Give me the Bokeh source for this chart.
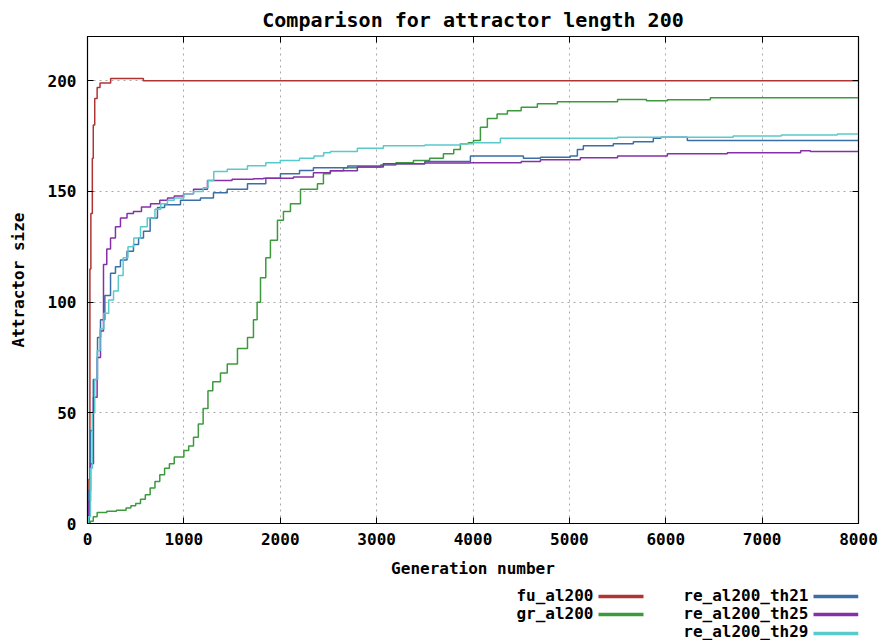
from bokeh.plotting import figure
from bokeh.models import Range1d, FixedTicker, LinearAxis, ColumnDataSource
from bokeh.layouts import column
from bokeh.embed import file_html
from bokeh.resources import INLINE
from bokeh.core.properties import value

# ---------------- data ----------------
fu_x = [0, 15, 25, 35, 50, 60, 75, 100, 130, 240, 580, 8000]
fu_y = [3, 20, 115, 140, 165, 180, 192, 197, 199, 201, 200, 200]

gr_x = [0, 30, 60, 100, 200, 300, 400, 450, 500, 550, 600, 650, 700, 750, 800, 850, 900, 1000,
        1050, 1100, 1150, 1200, 1250, 1300, 1380, 1450, 1556, 1660, 1722, 1760, 1795, 1850, 1898,
        1971, 2033, 2106, 2210, 2386, 2448, 2520, 2656, 2800, 3040, 3200, 3382, 3550, 3693, 3800,
        3869, 3950, 4004, 4077, 4149, 4250, 4357, 4500, 4668, 4876, 5500, 5800, 6017, 6463, 8000]
gr_y = [0, 1, 3, 5, 5.5, 6, 7, 8, 9, 11, 13, 16, 19, 22, 25, 27, 30, 33,
        35, 39, 45, 52, 60, 64, 68, 72, 79, 84, 92, 100, 111, 120, 128,
        137, 141, 144.5, 151, 153.5, 158, 159.4, 160.7, 161, 162, 163, 164, 165, 167, 169,
        171.5, 172, 173, 179, 183, 185, 186.5, 188, 189.6, 190.5, 191.5, 191, 191.4, 192.3, 192.5]

th21_x = [0, 15, 31, 60, 104, 135, 180, 239, 290, 342, 410, 477, 530, 581, 650, 726, 800, 965,
          1100, 1172, 1307, 1450, 1660, 1850, 2002, 2200, 2344, 2448, 2700, 3070, 3500, 3973,
          4523, 4700, 5010, 5083, 5145, 5456, 5664, 5871, 5950, 6224, 8000]
th21_y = [0, 15, 42, 65, 84, 92, 103, 113, 116, 119, 123, 126, 129, 132, 138, 142.7, 144, 146,
          146, 147, 149.4, 151, 153.5, 156, 158, 159.5, 160.7, 160.7, 161.5, 162.5, 163.5, 166,
          165, 165.5, 166, 169, 170.6, 171.5, 172.5, 174, 174.5, 173, 173]

th25_x = [0, 15, 31, 62, 100, 135, 166, 200, 239, 290, 342, 410, 477, 560, 654, 750, 830, 900,
          996, 1100, 1245, 1500, 1722, 1826, 2137, 2344, 2520, 2800, 3070, 3500, 3973, 4357,
          4500, 4700, 5114, 5500, 6017, 6639, 7400, 7500, 8000]
th25_y = [0, 10, 27, 57, 75, 87, 117, 124, 129, 134, 138, 140, 141, 143, 144.5, 146, 147, 148,
          149, 151, 155, 155.5, 155.7, 156, 156.5, 158.5, 159.4, 161, 162.5, 162.8, 163, 163,
          163.5, 164.3, 165.2, 166, 167, 167.5, 168.4, 168, 168]

th29_x = [0, 10, 30, 50, 75, 100, 130, 170, 220, 270, 320, 370, 420, 480, 550, 620, 700, 760,
          830, 900, 1000, 1100, 1200, 1250, 1310, 1450, 1660, 1850, 2000, 2200, 2350, 2450, 2520,
          2800, 3070, 3500, 3870, 4000, 4284, 5000, 5500, 6000, 6700, 7200, 7780, 8000]
th29_y = [0, 3, 25, 50, 65, 78, 88, 95, 101, 105, 112, 120, 125, 129, 134, 138, 142, 144.5,
          146, 147, 149, 150, 151.7, 155, 159, 160, 161.6, 163, 164, 165, 166, 167.5, 168,
          169.5, 170.6, 171, 171.5, 172, 174, 174, 174.5, 174.5, 175, 175.5, 176, 176]

series_names = ["fu_al200", "gr_al200", "re_al200_th21", "re_al200_th25", "re_al200_th29"]
series_colors = ["#b03434", "#3c9a3c", "#3a6ea6", "#8530a8", "#58cacc"]
series_data = [(fu_x, fu_y), (gr_x, gr_y), (th21_x, th21_y), (th25_x, th25_y), (th29_x, th29_y)]

x_ticks = [0, 1000, 2000, 3000, 4000, 5000, 6000, 7000, 8000]
y_ticks = [0, 50, 100, 150, 200]

FONT = "DejaVu Sans Mono"
FS = "16px"
W = 882
LEFT, RIGHT = 87, 24

# ---------------- main plot ----------------
p = figure(width=W, height=580, output_backend="svg", toolbar_location=None,
           x_range=Range1d(0, 8000), y_range=Range1d(0, 220),
           min_border_left=LEFT, min_border_right=RIGHT, min_border_top=35, min_border_bottom=57,
           title="Comparison for attractor length 200")
p.title.align = "center"
p.title.text_font = FONT
p.title.text_font_size = "20px"
p.title.text_font_style = "bold"
p.title.text_color = "#000000"

p.outline_line_color = "black"
p.outline_line_width = 1.2

for ax in (p.xaxis[0], p.yaxis[0]):
    ax.major_label_text_font = FONT
    ax.major_label_text_font_size = FS
    ax.major_label_text_font_style = "bold"
    ax.major_label_text_color = "black"
    ax.axis_label_text_font = FONT
    ax.axis_label_text_font_size = FS
    ax.axis_label_text_font_style = "bold"
    ax.axis_label_text_color = "black"
    ax.major_tick_in = 6
    ax.major_tick_out = 0
    ax.minor_tick_line_color = None
    ax.axis_line_color = "black"
    ax.major_tick_line_color = "black"

p.xaxis.ticker = FixedTicker(ticks=x_ticks)
p.yaxis.ticker = FixedTicker(ticks=y_ticks)
p.xaxis.axis_label = "Generation number"
p.yaxis.axis_label = "Attractor size"
p.xaxis.major_label_standoff = 9
p.yaxis.major_label_standoff = 11
p.xaxis.axis_label_standoff = 11
p.yaxis.axis_label_standoff = 17

for loc, tick in (("right", y_ticks), ("above", x_ticks)):
    ax = LinearAxis(ticker=FixedTicker(ticks=tick),
                    major_label_overrides={t: "" for t in tick},
                    major_tick_in=6, major_tick_out=0, minor_tick_line_color=None,
                    axis_line_color="black", major_label_standoff=0)
    p.add_layout(ax, loc)

p.xgrid.ticker = FixedTicker(ticks=x_ticks[1:-1])
p.ygrid.ticker = FixedTicker(ticks=y_ticks[1:])
for g in (p.xgrid[0], p.ygrid[0]):
    g.grid_line_color = "#a8a8a8"
    g.grid_line_dash = "2 4"
    g.grid_line_width = 1

for (xs, ys), col in zip(series_data, series_colors):
    p.step(xs, ys, mode="after", line_color=col, line_width=1.5)

# ---------------- legend strip (data units = page pixels) ----------------
LH = 60
lg = figure(width=W, height=LH, output_backend="svg", toolbar_location=None,
            x_range=Range1d(LEFT, W - RIGHT), y_range=Range1d(LH, 0),
            min_border_left=LEFT, min_border_right=RIGHT, min_border_top=0, min_border_bottom=0,
            outline_line_color=None)
lg.axis.visible = False
lg.grid.visible = False

text_right = [593, 593, 808, 808, 808]
line_x0 = [598, 598, 813, 813, 813]
src = ColumnDataSource(dict(name=series_names, color=series_colors, tx=text_right,
                            lx0=line_x0, lx1=[v + 45 for v in line_x0],
                            ty=[15, 33, 15, 33, 51], ly=[16, 34, 16, 34, 53]))
lg.text(x="tx", y="ty", text="name", source=src, text_align="right", text_baseline="middle",
        text_font=value(FONT), text_font_size=FS, text_font_style="bold", text_color="black")
lg.segment(x0="lx0", x1="lx1", y0="ly", y1="ly", line_color="color", line_width=3.5, source=src)

layout = column(p, lg, spacing=0)
open("out.html", "w").write(file_html(layout, INLINE))
